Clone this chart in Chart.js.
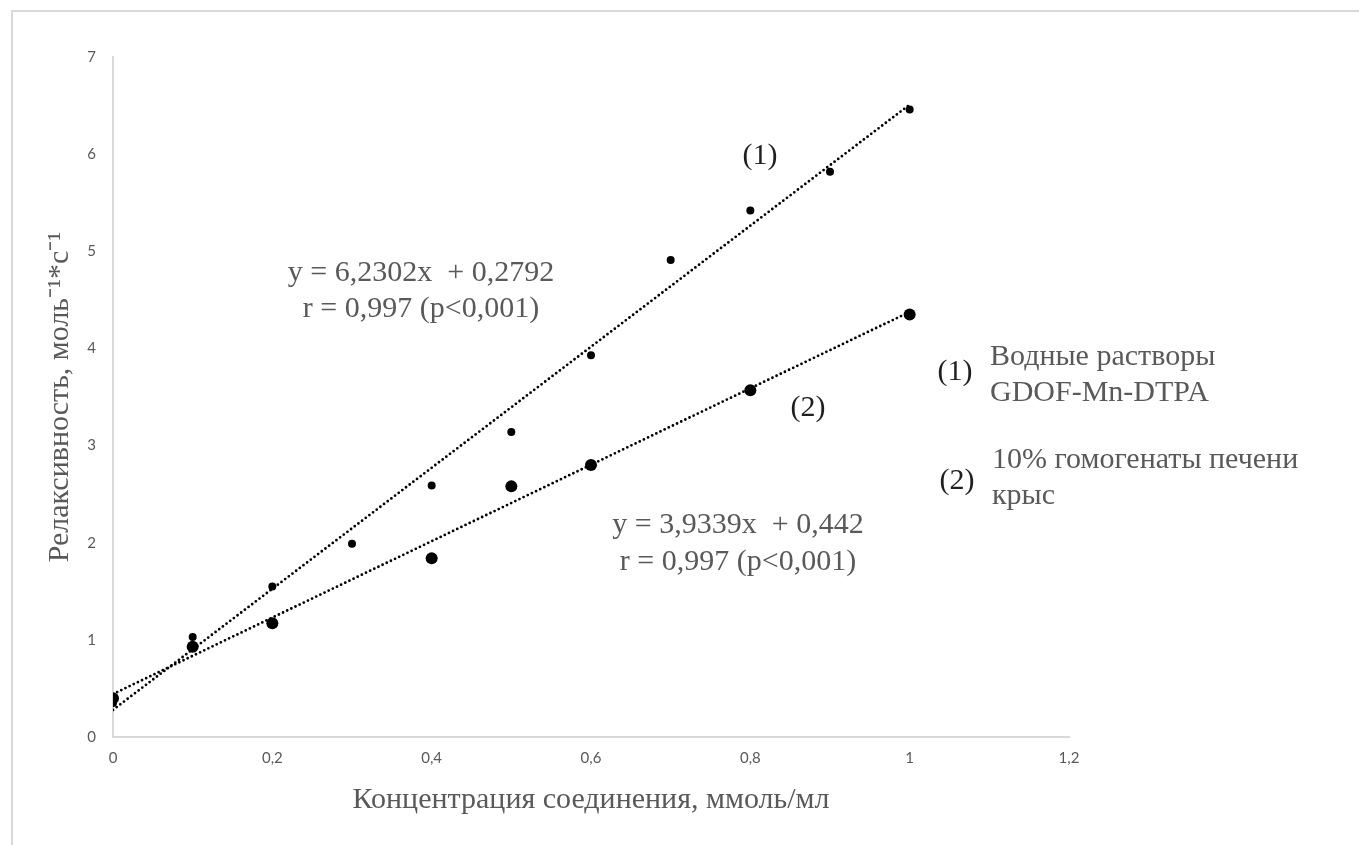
<!DOCTYPE html>
<html>
<head>
<meta charset="utf-8">
<script src="https://cdn.jsdelivr.net/npm/chart.js@4.4.1/dist/chart.umd.min.js"></script>
<style>
  html, body { margin: 0; padding: 0; background: #fff; }
  #wrap { width: 1359px; height: 845px; position: relative; }
</style>
</head>
<body>
<div id="wrap"><canvas id="relaxChart"></canvas></div>
<script>
// концентрация, ммоль/мл
const conc1 = [0, 0.1, 0.2, 0.3, 0.4, 0.5, 0.6, 0.7, 0.8, 0.9, 1.0];
const relax1 = [0.35, 1.03, 1.55, 1.99, 2.59, 3.14, 3.93, 4.91, 5.42, 5.82, 6.46];

const conc2 = [0, 0.1, 0.2, 0.4, 0.5, 0.6, 0.8, 1.0];
const relax2 = [0.40, 0.93, 1.17, 1.84, 2.58, 2.80, 3.57, 4.35];

// коэффициенты линий тренда (из подписей)
const trend1 = { slope: 6.2302, intercept: 0.2792 };
const trend2 = { slope: 3.9339, intercept: 0.442 };
const trendRange = [0, 1];

const xTicks = [0, 0.2, 0.4, 0.6, 0.8, 1, 1.2];
const yTicks = [0, 1, 2, 3, 4, 5, 6, 7];

function toPoints(xs, ys) {
    return xs.map((x, i) => ({ x: x, y: ys[i] }));
}

function trendPoints(t) {
    return trendRange.map(x => ({ x: x, y: t.slope * x + t.intercept }));
}

const gray = '#595959';
const serif = "'Liberation Serif', 'Times New Roman', serif";
const tickFont = "Lato, 'Open Sans', sans-serif";

const labelsPlugin = {
    id: 'labels',
    beforeDraw(chart) {
        const ctx = chart.ctx;
        ctx.save();
        ctx.fillStyle = '#ffffff';
        ctx.fillRect(0, 0, chart.width, chart.height);
        ctx.strokeStyle = '#d9d9d9';
        ctx.lineWidth = 2;
        ctx.strokeRect(12, 11, chart.width + 20, chart.height + 20);
        ctx.restore();
    },
    afterDraw(chart) {
        const ctx = chart.ctx;
        ctx.save();
        ctx.font = '30px ' + serif;
        ctx.textBaseline = 'middle';
        ctx.textAlign = 'center';
        ctx.fillStyle = gray;
        ctx.fillText('y = 6,2302x  + 0,2792', 421, 273);
        ctx.fillText('r = 0,997 (p<0,001)', 421, 309);
        ctx.fillText('y = 3,9339x  + 0,442', 738, 525);
        ctx.fillText('r = 0,997 (p<0,001)', 738, 562);

        ctx.fillStyle = '#1f1f1f';
        ctx.fillText('(1)', 760, 156);
        ctx.fillText('(2)', 808, 408);
        ctx.fillText('(1)', 955, 372);
        ctx.fillText('(2)', 957, 481);

        ctx.textAlign = 'left';
        ctx.fillStyle = gray;
        ctx.fillText('Водные растворы', 990, 357);
        ctx.fillText('GDOF-Mn-DTPA', 990, 393);
        ctx.fillText('10% гомогенаты печени', 992, 460);
        ctx.fillText('крыс', 992, 496);
        ctx.restore();
    }
};

const ctx = document.getElementById('relaxChart').getContext('2d');
new Chart(ctx, {
    type: 'scatter',
    data: {
        datasets: [
            {
                label: 'trend1',
                type: 'line',
                data: trendPoints(trend1),
                borderColor: '#000',
                borderWidth: 2.8,
                borderDash: [0, 4.6],
                borderCapStyle: 'round',
                pointRadius: 0,
                fill: false
            },
            {
                label: 'trend2',
                type: 'line',
                data: trendPoints(trend2),
                borderColor: '#000',
                borderWidth: 2.8,
                borderDash: [0, 4.6],
                borderCapStyle: 'round',
                pointRadius: 0,
                fill: false
            },
            {
                label: '(1) Водные растворы GDOF-Mn-DTPA',
                data: toPoints(conc1, relax1),
                backgroundColor: '#000',
                borderColor: '#000',
                pointRadius: 4,
                pointBorderWidth: 0
            },
            {
                label: '(2) 10% гомогенаты печени крыс',
                data: toPoints(conc2, relax2),
                backgroundColor: '#000',
                borderColor: '#000',
                pointRadius: 6,
                pointBorderWidth: 0
            }
        ]
    },
    options: {
        responsive: true,
        maintainAspectRatio: false,
        animation: false,
        layout: {
            padding: { left: 12, top: 57, right: 290, bottom: 0 }
        },
        plugins: {
            legend: { display: false },
            tooltip: { enabled: false }
        },
        scales: {
            x: {
                type: 'linear',
                min: 0,
                max: 1.2,
                afterFit: function(scale) { scale.height = 108; },
                afterBuildTicks: function(scale) { scale.ticks = xTicks.map(v => ({ value: v })); },
                grid: { display: false, drawTicks: false },
                border: { display: true, color: '#d9d9d9', width: 2 },
                ticks: {
                    padding: 12,
                    color: gray,
                    font: { family: tickFont, size: 15 },
                    callback: function(value) {
                        return (Math.round(value * 10) / 10).toString().replace('.', ',');
                    }
                },
                title: {
                    display: true,
                    text: 'Концентрация соединения, ммоль/мл',
                    color: gray,
                    font: { family: serif, size: 30 },
                    padding: { top: 0, bottom: 27 }
                }
            },
            y: {
                type: 'linear',
                min: 0,
                max: 7,
                afterFit: function(scale) { scale.width = 101; },
                afterBuildTicks: function(scale) { scale.ticks = yTicks.map(v => ({ value: v })); },
                grid: { display: false, drawTicks: false },
                border: { display: true, color: '#d9d9d9', width: 2 },
                ticks: {
                    padding: 17,
                    color: gray,
                    font: { family: tickFont, size: 15 }
                },
                title: {
                    display: true,
                    text: 'Релаксивность, моль⁻¹*с⁻¹',
                    color: gray,
                    font: { family: serif, size: 30 },
                    padding: { top: 30, bottom: 0 }
                }
            }
        }
    },
    plugins: [labelsPlugin]
});
</script>
</body>
</html>
